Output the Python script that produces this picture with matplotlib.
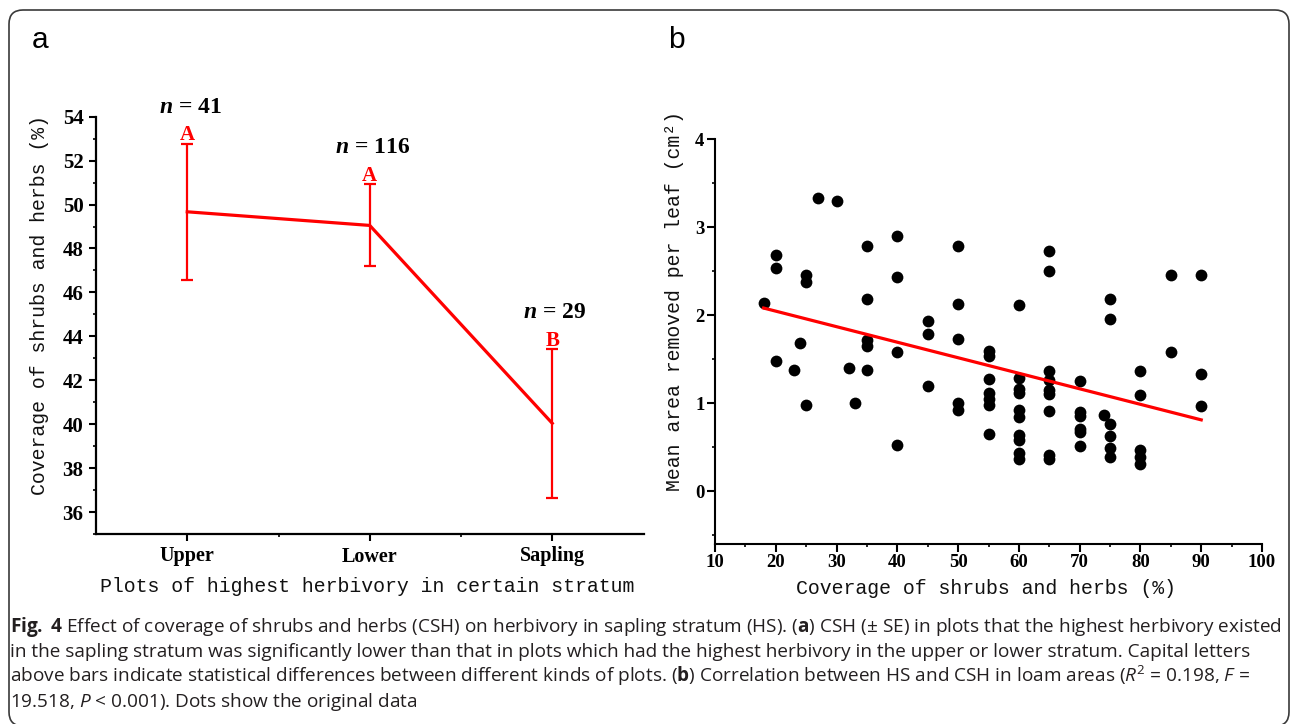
import matplotlib
matplotlib.use("Agg")
import matplotlib.pyplot as plt
import numpy as np
from matplotlib.patches import FancyBboxPatch
from matplotlib.ticker import MultipleLocator, FixedLocator
from matplotlib.transforms import IdentityTransform

plt.rcParams["mathtext.fontset"] = "custom"
plt.rcParams["mathtext.rm"] = "Open Sans"
plt.rcParams["mathtext.it"] = "Open Sans:italic"
plt.rcParams["mathtext.bf"] = "Open Sans:bold"
plt.rcParams["mathtext.bfit"] = "Liberation Serif:italic:bold"

# ---- panel a: coverage of shrubs and herbs by stratum of highest herbivory ----
strata = ["Upper", "Lower", "Sapling"]
csh_mean = [49.67, 49.05, 40.04]
csh_se = [3.10, 1.87, 3.38]
group_n = [41, 116, 29]
group_letters = ["A", "A", "B"]

# ---- panel b: herbivory in sapling stratum vs. coverage (loam areas) ----
coverage = [18,
            20, 20, 20,
            23, 24,
            25, 25, 25,
            27, 30, 32, 33,
            35, 35, 35, 35, 35,
            40, 40, 40, 40,
            45, 45, 45,
            50, 50, 50, 50, 50,
            55, 55, 55, 55, 55, 55, 55,
            60, 60, 60, 60, 60, 60, 60, 60, 60, 60,
            65, 65, 65, 65, 65, 65, 65, 65, 65,
            70, 70, 70, 70, 70, 70,
            74,
            75, 75, 75, 75, 75, 75,
            80, 80, 80, 80, 80,
            85, 85,
            90, 90, 90]
area_removed = [2.14,
                2.68, 2.53, 1.48,
                1.38, 1.68,
                2.46, 2.38, 0.98,
                3.33, 3.30, 1.40, 1.00,
                2.78, 2.18, 1.72, 1.65, 1.38,
                2.90, 2.43, 1.58, 0.53,
                1.93, 1.78, 1.20,
                2.78, 2.13, 1.73, 1.00, 0.92,
                1.59, 1.53, 1.27, 1.12, 1.05, 0.98, 0.65,
                2.11, 1.29, 1.16, 1.12, 0.92, 0.84, 0.64, 0.58, 0.43, 0.37,
                2.73, 2.50, 1.36, 1.26, 1.15, 1.10, 0.91, 0.41, 0.36,
                1.25, 0.90, 0.85, 0.71, 0.67, 0.51,
                0.86,
                2.18, 1.95, 0.76, 0.63, 0.49, 0.39,
                1.37, 1.09, 0.47, 0.39, 0.31,
                2.45, 1.58,
                2.45, 1.33, 0.97]
fit_intercept = 2.3975
fit_slope = -0.01764

caption_lines = [
    r"$\mathbf{Fig.}$ $\mathbf{4}$ Effect of coverage of shrubs and herbs (CSH) on herbivory in sapling stratum (HS). ($\mathbf{a}$) CSH (± SE) in plots that the highest herbivory existed",
    "in the sapling stratum was significantly lower than that in plots which had the highest herbivory in the upper or lower stratum. Capital letters",
    r"above bars indicate statistical differences between different kinds of plots. ($\mathbf{b}$) Correlation between HS and CSH in loam areas ($R^2$ = 0.198, $F$ =",
    r"19.518, $P$ < 0.001). Dots show the original data",
]

W, H = 1292, 724
RED = "#ff0000"
TICK_FONT = dict(fontfamily="Liberation Serif", fontweight="bold")
LABEL_FONT = dict(fontfamily="Liberation Mono", fontsize=14.3, color="#111111")

fig = plt.figure(figsize=(W / 100, H / 100), dpi=100)
fig.patch.set_facecolor("white")


def px_rect(left, top, right, bottom):
    return [left / W, 1 - bottom / H, (right - left) / W, (bottom - top) / H]


def style_axes(ax, spine_w):
    for side in ("top", "right"):
        ax.spines[side].set_visible(False)
    for side in ("left", "bottom"):
        ax.spines[side].set_linewidth(spine_w)
        ax.spines[side].set_color("black")


# ---------------- panel a ----------------
ax_a = fig.add_axes(px_rect(96, 116.7, 643.5, 534))
style_axes(ax_a, 1.6)
xs = np.arange(len(strata))
ax_a.plot(xs, csh_mean, color=RED, lw=2.3, zorder=3)
ax_a.errorbar(xs, csh_mean, yerr=csh_se, fmt="none", ecolor=RED,
              elinewidth=1.6, capsize=4, capthick=1.6, zorder=3)
for x, m, se, n, letter in zip(xs, csh_mean, csh_se, group_n, group_letters):
    top = m + se
    ax_a.text(x, top + 0.15, letter, ha="center", va="baseline", color=RED,
              fontsize=15, fontfamily="Liberation Serif", fontweight="bold",
              clip_on=False)
    ax_a.text(x + 0.015, top + 1.42, r"$\mathbfit{n}$ = %d" % n, ha="center",
              va="baseline", fontsize=17, clip_on=False, **TICK_FONT)

ax_a.set_xlim(-0.5, 2.5)
ax_a.set_ylim(35, 54)
ax_a.set_xticks(xs, strata, fontsize=14.5, **TICK_FONT)
yt_a = np.arange(36, 55, 2)
ax_a.set_yticks(yt_a, [str(v) for v in yt_a], fontsize=15, **TICK_FONT)
ax_a.yaxis.set_minor_locator(MultipleLocator(1))
ax_a.xaxis.set_minor_locator(FixedLocator([0.5, 1.5]))
ax_a.tick_params(which="major", direction="out", length=5, width=1.5, pad=4)
ax_a.tick_params(which="minor", direction="out", length=2.5, width=1.2)
ax_a.set_xlabel("Plots of highest herbivory in certain stratum", **LABEL_FONT)
ax_a.xaxis.label.set_va("center")
ax_a.xaxis.set_label_coords(0.495, -(587 - 534) / (534 - 116.7))
ax_a.set_ylabel("Coverage of shrubs and herbs (%)", **LABEL_FONT)
ax_a.yaxis.label.set_va("center")
ax_a.yaxis.set_label_coords((40 - 96) / (643.5 - 96), (534 - 305) / (534 - 116.7))

# ---------------- panel b ----------------
ax_b = fig.add_axes(px_rect(715, 139, 1262, 544))
style_axes(ax_b, 1.5)
ax_b.scatter(coverage, area_removed, s=72, color="black", linewidths=0, zorder=3)
fit_x = np.array([min(coverage), max(coverage)], dtype=float)
ax_b.plot(fit_x, fit_intercept + fit_slope * fit_x, color=RED, lw=2.3, zorder=4)
ax_b.set_xlim(10, 100)
ax_b.set_ylim(-0.6, 4)
xt_b = np.arange(10, 101, 10)
ax_b.set_xticks(xt_b, [str(v) for v in xt_b], fontsize=13.5, **TICK_FONT)
yt_b = np.arange(0, 5, 1)
ax_b.set_yticks(yt_b, [str(v) for v in yt_b], fontsize=13.5, **TICK_FONT)
ax_b.xaxis.set_minor_locator(MultipleLocator(5))
ax_b.yaxis.set_minor_locator(MultipleLocator(0.5))
ax_b.tick_params(which="major", direction="out", length=5.5, width=1.5, pad=2)
ax_b.tick_params(which="minor", direction="out", length=2.5, width=1.2)
ax_b.set_xlabel("Coverage of shrubs and herbs (%)", **LABEL_FONT)
ax_b.xaxis.label.set_va("center")
ax_b.xaxis.set_label_coords((986 - 715) / 547, -(588 - 544) / (544 - 139))
ax_b.set_ylabel("Mean area removed per leaf (cm²)", **LABEL_FONT)
ax_b.yaxis.label.set_va("center")
ax_b.yaxis.set_label_coords((675 - 715) / 547, (544 - 301) / (544 - 139))

# ---------------- panel letters ----------------
fig.text(32 / W, 1 - 48 / H, "a", fontsize=21.5, fontfamily="Liberation Sans",
         ha="left", va="baseline")
fig.text(668 / W, 1 - 48 / H, "b", fontsize=21.5, fontfamily="Liberation Sans",
         ha="left", va="baseline")

# ---------------- caption ----------------
cap_size = 13
renderer = fig.canvas.get_renderer()
probe = fig.text(0, 0, caption_lines[0], fontsize=cap_size, fontfamily="Open Sans")
probe_w = probe.get_window_extent(renderer).width
probe.remove()
cap_size = cap_size * (1267 / probe_w)
for i, line in enumerate(caption_lines):
    fig.text(10 / W, 1 - (632 + 25 * i) / H, line, fontsize=cap_size,
             fontfamily="Open Sans", color="#231f20", ha="left", va="baseline")

# ---------------- rounded frame ----------------
frame = FancyBboxPatch((9, -2), 1280, 716, boxstyle="round,pad=0,rounding_size=14",
                       transform=IdentityTransform(), facecolor="none",
                       edgecolor="#3a3a3a", linewidth=1.2)
fig.patches.append(frame)

fig.savefig("out.png", dpi=100, facecolor="white")
